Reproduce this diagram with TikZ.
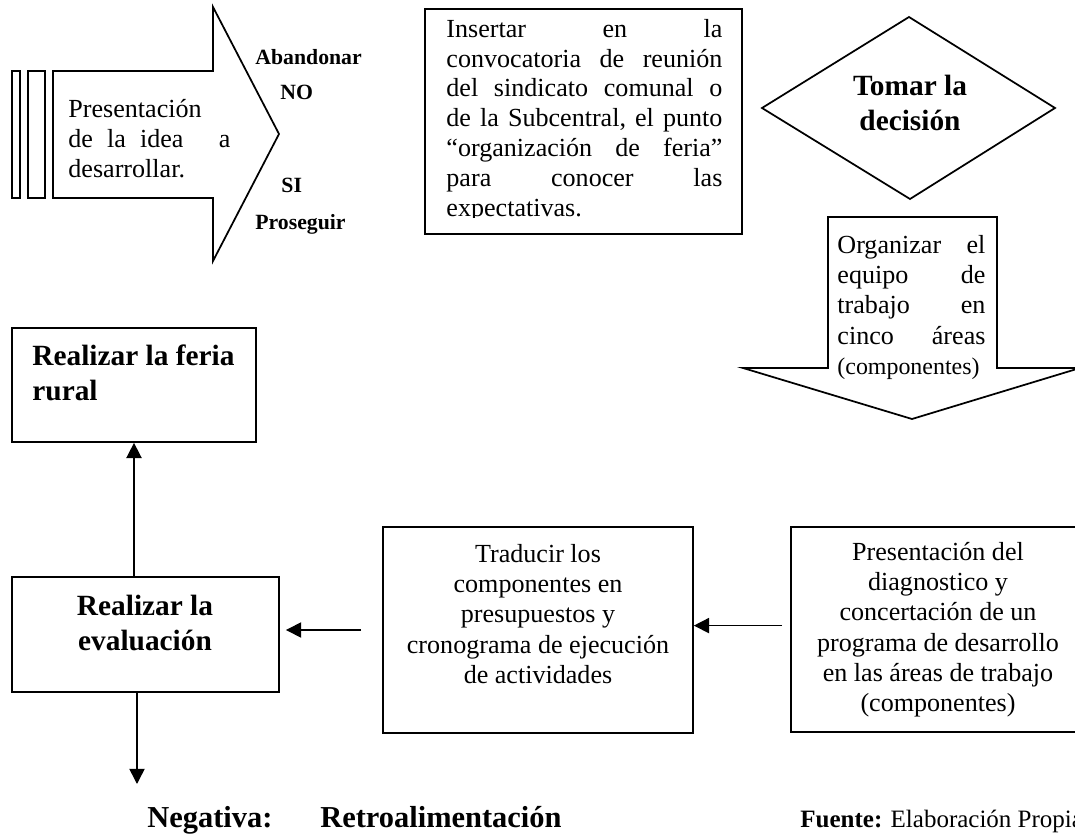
\documentclass[tikz,border=0pt]{standalone}
\usepackage{fontspec}
\setmainfont{Liberation Serif}
\usetikzlibrary{arrows.meta,fit}
\newcommand\txtreg{\fontsize{12}{13.9}\selectfont}
\newcommand\txtbold{\bfseries\fontsize{13.5}{16.1}\selectfont}
\newcommand\firstline{\rule{0pt}{10pt}}
\newcommand\firstbold{\rule{0pt}{11.5pt}}
\begin{document}
\begin{tikzpicture}[x=0.46pt, y=-0.46pt,
  outline/.style={draw=black, line width=0.8pt},
  box/.style={outline, inner sep=0pt},
  txt/.style={inner sep=0pt, font=\txtreg},
  btxt/.style={inner sep=0pt, font=\txtbold},
  small/.style={inner sep=0pt, font=\bfseries\fontsize{10}{12}\selectfont},
  arr/.style={-{Triangle[length=7pt,width=7pt]}, line width=0.7pt},
]
\useasboundingbox (0,0) rectangle (1075,834);
\fill[white] (0,0) rectangle (1075,834);
\clip (0,0) rectangle (1075,834);

% entry arrow with its two bars
\draw[outline] (12,71) rectangle (20,198);
\draw[outline] (28,71) rectangle (45,198);
\draw[outline] (53,71) -- (213,71) -- (213,7) -- (279,134) -- (213,261) -- (213,198) -- (53,198) -- cycle;
\node[txt, anchor=north west, text width=74.5pt, align=left] (idea) at (68,95.26)
  {\firstline Presentación\\ de\hfill la\hfill idea\hspace{0pt plus 2.5fill}a\\ desarrollar.};

% decision labels at the arrow head
\node[small, anchor=base west] (aband) at (255,65) {Abandonar};
\node[small, anchor=base west] (no) at (280,100) {NO};
\node[small, anchor=base west] (si) at (281,193) {SI};
\node[small, anchor=base west] (pros) at (255,230) {Proseguir};

% meeting agenda box (text cut by the box frame)
\node[box, fit={(425,9) (742,234)}] (insert) {};
\begin{scope}
\clip (425,9) rectangle (742,218);
\node[txt, font=\fontsize{12}{13.7}\selectfont, anchor=north west, text width=126.96pt, align=left] (inserttxt) at (446,15.26)
  {\firstline Insertar\hfill en\hfill la\\
   convocatoria\hfill de\hfill reunión\\
   del\hfill sindicato\hfill comunal\hfill o\\
   de\hfill la\hfill Subcentral,\hfill el\hfill punto\\
   “organización\hfill de\hfill feria”\\
   para\hfill conocer\hfill las\\
   expectativas.};
\end{scope}

% decision diamond
\draw[outline] (909,17) -- (1055,108) -- (910,199) -- (762,108) -- cycle;
\node[btxt, anchor=north, align=center] (decide) at (910,70) {\firstbold Tomar la\\ decisión};

% downward block arrow
\draw[outline] (828,217) -- (997,217) -- (997,368) -- (1080,368) -- (912,419) -- (743,368) -- (828,368) -- cycle;
\node[txt, anchor=north west, text width=68.1pt, align=left] (organize) at (837,231.26)
  {\firstline Organizar\hfill el\\ equipo\hfill de\\ trabajo\hfill en\\ cinco\hfill áreas\\
   {\fontsize{11}{13.9}\selectfont (componentes)}};

% left column boxes
\node[box, fit={(12,328) (256,442)}] (feria) {};
\node[btxt, anchor=north west, align=left] (feriatxt) at (32,340) {\firstbold Realizar la feria\\ rural};

\node[box, fit={(12,577) (279,692)}] (eval) {};
\node[btxt, anchor=north, align=center] (evaltxt) at (145,590) {\firstbold Realizar la\\ evaluación};

% bottom row boxes
\node[box, fit={(383,527) (693,733)}] (trad) {};
\node[txt, anchor=north, align=center] (tradtxt) at (538,540.26)
  {\firstline Traducir los\\ componentes en\\ presupuestos y\\ cronograma de ejecución\\ de actividades};

\node[box, fit={(791,527) (1085,732)}] (diag) {};
\node[txt, anchor=north, align=center] (diagtxt) at (938,538.26)
  {\firstline Presentación del\\ diagnostico y\\ concertación de un\\ programa de desarrollo\\ en las áreas de trabajo\\ (componentes)};

% connectors
\draw[arr] (eval.north -| feria.south) -- (feria.south);
\coordinate (neg) at (137,784);
\draw[arr] (eval.south -| neg) -- (neg);
\draw[arr, shorten <=9.7pt, shorten >=2.8pt] (trad.west) -- (trad.west -| eval.east);
\draw[arr, shorten <=3.7pt] ([yshift=1.8pt]diag.west) -- ([yshift=1.8pt]diag.west -| trad.east);

% closing lines
\node[inner sep=0pt, anchor=base west, font=\bfseries\fontsize{14}{16}\selectfont] (negtxt) at (147,827)
  {Negativa:\hspace{22pt}Retroalimentación};
\node[inner sep=0pt, anchor=base west, font=\fontsize{11.5}{13}\selectfont] (source) at (800,827)
  {\textbf{Fuente:} Elaboración Propia};
\end{tikzpicture}
\end{document}
